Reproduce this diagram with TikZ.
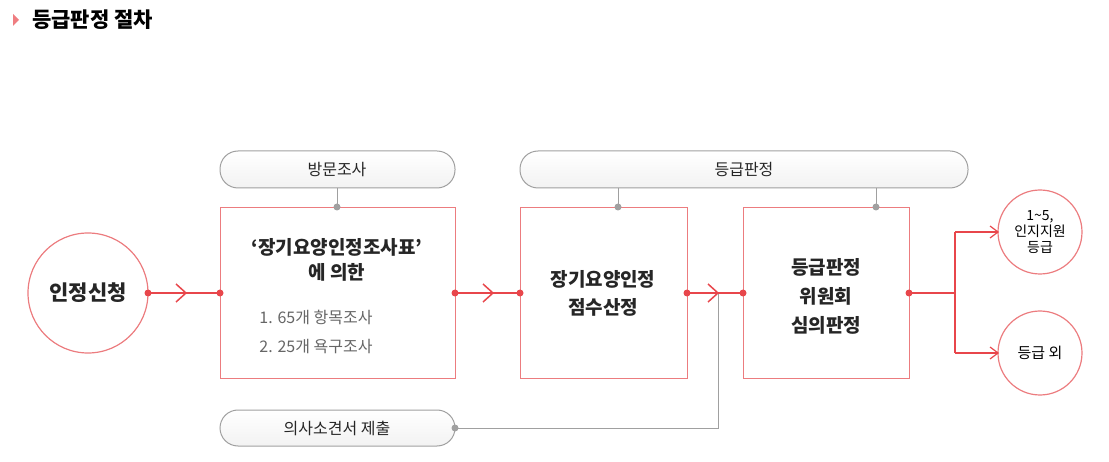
\documentclass[tikz,border=0pt]{standalone}
\usepackage{fontspec}
\setmainfont{Noto Sans CJK KR}
\usetikzlibrary{arrows.meta}
\definecolor{rd}{HTML}{E8464B}
\definecolor{rl}{HTML}{EC7C7F}
\definecolor{gr}{HTML}{A0A0A0}
\tikzset{x=1pt,y=-1pt,
 box/.style={draw=rl,line width=1.2pt,fill=white,inner sep=0,anchor=north west},
 pill/.style={draw=gr,line width=1pt,rounded corners=18pt,top color=white,bottom color=gray!10},
 circ/.style={circle,draw=rl,line width=1.2pt,fill=white},
 rline/.style={draw=rd,line width=1.2pt},
 gline/.style={draw=gr,line width=1pt},
 chev/.style={draw=rd,line width=1.5pt},
 rdot/.style={circle,fill=rd,inner sep=0,minimum size=7pt},
 gdot/.style={circle,fill=gr,inner sep=0,minimum size=7pt},
 lbl/.style={font=\fontsize{16}{19}\selectfont,text=black!85}}
\begin{document}
\begin{tikzpicture}
\useasboundingbox (0,0) rectangle (1109,462);
% title
\fill[rd!70] (13,14) -- (19,20) -- (13,26) -- cycle;
\node[anchor=west,font=\bfseries\fontsize{21}{24}\selectfont,inner sep=0] (title) at (32,20) {등급판정 절차};
% pills
\draw[pill] (220,151) rectangle (455,188);
\node[lbl] (p1) at (337,170) {방문조사};
\draw[pill] (520,151) rectangle (968,188);
\node[lbl] (p2) at (744,170) {등급판정};
\draw[pill] (220,410) rectangle (455,446);
\node[lbl] (p3) at (337,428) {의사소견서 제출};
% boxes
\node[box,minimum width=235pt,minimum height=171pt] (b1) at (220,207) {};
\node[box,minimum width=167pt,minimum height=171pt] (b2) at (520,207) {};
\node[box,minimum width=166pt,minimum height=171pt] (b3) at (743,207) {};
\node[lbl,font=\bfseries\fontsize{19}{25}\selectfont,align=center] (t1) at (337,260) {‘장기요양인정조사표’\\에 의한};
\node[lbl,font=\fontsize{16}{29}\selectfont,align=left,text=black!60] (t1b) at (316,332) {1. 65개 항목조사\\2. 25개 욕구조사};
\node[lbl,font=\bfseries\fontsize{19}{28}\selectfont,align=center] (t2) at (603,293) {장기요양인정\\점수산정};
\node[lbl,font=\bfseries\fontsize{19}{29}\selectfont,align=center] (t3) at (826,296) {등급판정\\위원회\\심의판정};
% circles
\node[circ,minimum size=120pt] (c0) at (88,293) {};
\node[lbl,font=\bfseries\fontsize{21}{25}\selectfont] (c0t) at (88,293) {인정신청};
\node[circ,minimum size=84pt,align=center,font=\fontsize{14}{16}\selectfont] (c1) at (1040,232) {1\textasciitilde5,\\인지지원\\등급};
\node[circ,minimum size=84pt,font=\fontsize{15}{17}\selectfont] (c2) at (1040,353) {등급 외};
% gray connectors
\draw[gline] (337,188) -- (337,207) node[gdot]{};
\draw[gline] (618,188) -- (618,207) node[gdot]{};
\draw[gline] (876,188) -- (876,207) node[gdot]{};
\draw[gline] (455,428) node[gdot]{} -- (718,428) -- (718,293);
% red connectors
\draw[rline] (148,293) node[rdot]{} -- (220,293) node[rdot]{};
\draw[rline] (455,293) node[rdot]{} -- (520,293) node[rdot]{};
\draw[rline] (687,293) node[rdot]{} -- (743,293) node[rdot]{};
\draw[rline] (909,293) node[rdot]{} -- (955,293);
\draw[rline] (955,232) -- (955,353);
\draw[rline] (955,232) -- (c1.west);
\draw[rline] (955,353) -- (c2.west);
\foreach \x in {184,491,716} \draw[chev] (\x-8,284) -- (\x+2,293) -- (\x-8,302);
\draw[chev,line width=1.2pt] (990,226) -- (998,232) -- (990,238);
\draw[chev,line width=1.2pt] (990,347) -- (998,353) -- (990,359);
\end{tikzpicture}
\end{document}
